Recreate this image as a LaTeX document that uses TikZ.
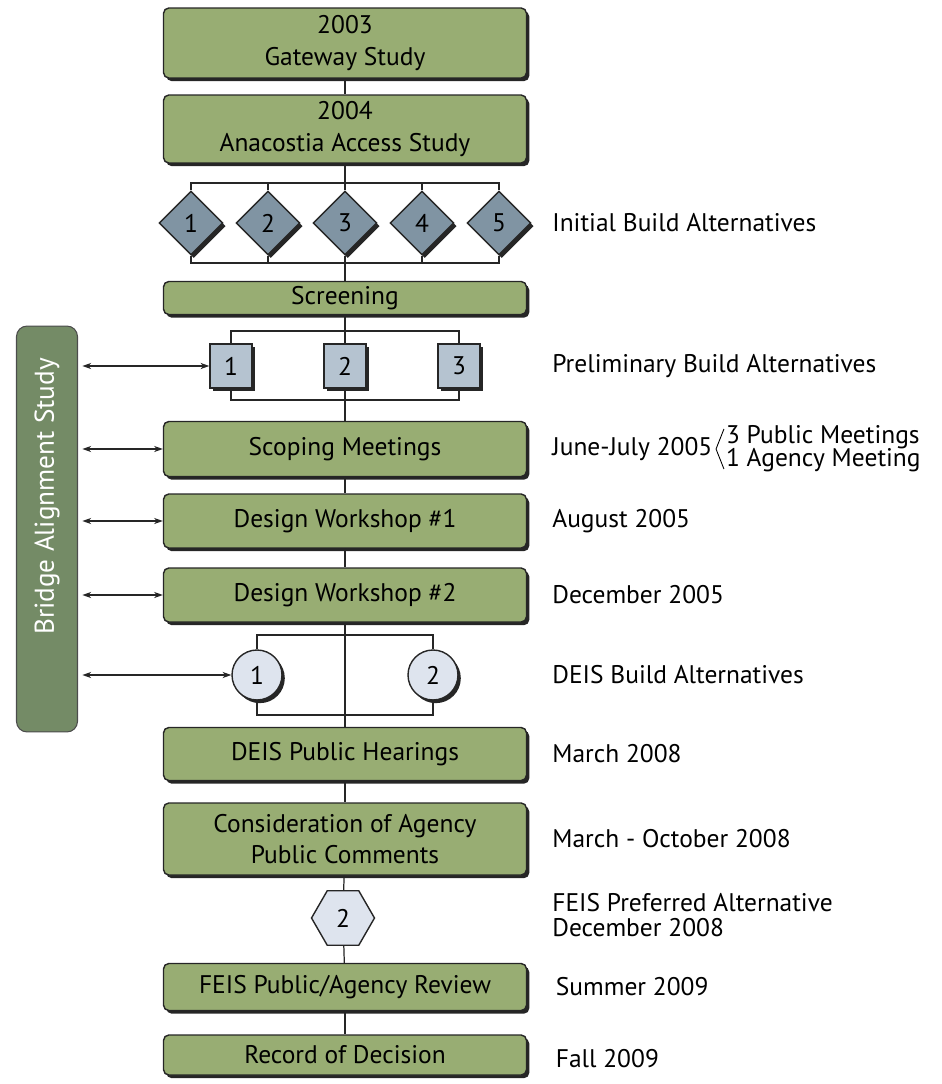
\documentclass[tikz,border=0pt]{standalone}
\usepackage{fontspec}
\setmainfont{PT Sans}
\usepackage{tikz}
\usetikzlibrary{shapes.geometric, arrows.meta, positioning, shadows}

\definecolor{stagegreen}{RGB}{152,173,115}
\definecolor{bridgegreen}{RGB}{116,139,102}
\definecolor{altslate}{RGB}{128,148,163}
\definecolor{altgrey}{RGB}{181,195,208}
\definecolor{altpale}{RGB}{222,228,238}

\begin{document}
\begin{tikzpicture}[x=0.02cm, y=-0.02cm, font=\fontsize{14.5}{18}\selectfont,
    darkshadow/.style={drop shadow={shadow xshift=1.6pt, shadow yshift=-1.8pt, opacity=0.85, fill=black}},
    stage/.style={rectangle, rounded corners=3pt, draw=black!85, line width=0.8pt, fill=stagegreen, minimum width=7.26cm, align=center, inner sep=1pt, darkshadow},
    initalt/.style={diamond, draw=black!85, line width=0.8pt, fill=altslate, minimum size=1.28cm, inner sep=0pt, darkshadow},
    prelimalt/.style={rectangle, draw=black!85, line width=0.8pt, fill=altgrey, minimum width=0.84cm, minimum height=0.88cm, inner sep=0pt, darkshadow},
    deisalt/.style={circle, draw=black!85, line width=0.8pt, fill=altpale, minimum size=1cm, inner sep=0pt, darkshadow},
    prefalt/.style={regular polygon, regular polygon sides=6, draw=black!85, line width=0.8pt, fill=altpale, minimum size=1.26cm, inner sep=0pt},
    note/.style={anchor=west, align=left, inner sep=0pt},
    link/.style={line width=0.7pt, draw=black!85},
    twoway/.style={link, {Stealth[length=5pt,width=3.5pt]}-{Stealth[length=5pt,width=3.5pt]}, shorten <=2.5pt}]
    \useasboundingbox (0,0) rectangle (942,1084);%page size
    \node (gate) [stage, minimum height=1.4cm] at (345,43) {2003\\Gateway Study};%first study
    \node (anac) [stage, minimum height=1.36cm] at (345,129) {2004\\Anacostia Access Study};%second study
    \foreach \i/\x in {1/191,2/268,3/345,4/422,5/499}
        \node (d\i) [initalt] at (\x,223) {\i};%initial alternatives
    \coordinate (altTop) at (345,183);
    \coordinate (altBot) at (345,263);
    \node (screen) [stage, minimum height=0.66cm] at (345,298) {Screening};%screening bar
    \foreach \i/\x in {1/231,2/345,3/459}
        \node (sq\i) [prelimalt] at (\x,366) {\i};%preliminary alternatives
    \coordinate (preTop) at (345,331);
    \coordinate (preBot) at (345,400);
    \node (scope) [stage, minimum height=1.1cm] at (345,449) {Scoping Meetings};
    \node (dw1) [stage, minimum height=1.08cm] at (345,521) {Design Workshop \#1};
    \node (dw2) [stage, minimum height=1.08cm] at (345,595) {Design Workshop \#2};
    \node (c1) [deisalt] at (257,675) {1};%deis alternatives
    \node (c2) [deisalt] at (433,675) {2};
    \coordinate (deisTop) at (345,635);
    \coordinate (deisBot) at (345,715);
    \node (hear) [stage, minimum height=1.06cm] at (345,754) {DEIS Public Hearings};
    \node (cons) [stage, minimum height=1.44cm] at (345,839) {Consideration of Agency\\Public Comments};
    \node (hex) [prefalt] at (343,918) {2};%preferred alternative
    \node (feis) [stage, minimum height=0.94cm] at (345,987) {FEIS Public/Agency Review};
    \node (rod) [stage, minimum height=0.8cm] at (345,1055) {Record of Decision};
    \node (bar) [rotate=90, rectangle, rounded corners=6pt, draw=black!70, line width=0.6pt, fill=bridgegreen, text=white, font=\fontsize{15.5}{18}\selectfont, minimum width=8.12cm, minimum height=1.22cm] at (47,529) {\hspace*{1.3cm}Bridge Alignment Study};%side study
    % main line
    \draw[link] (gate) -- (anac);
    \draw[link] (anac) -- (altTop);
    \draw[link] (d1.north) |- (altTop) -| (d5.north);
    \draw[link] (d1.south) |- (altBot) -| (d5.south);
    \foreach \i in {2,3,4} {
        \draw[link] (d\i.north) -- (d\i.north |- altTop);
        \draw[link] (d\i.south) -- (d\i.south |- altBot);
    }
    \draw[link] (altBot) -- (screen);
    \draw[link] (screen) -- (sq2);
    \draw[link] (sq1.north) |- (preTop) -| (sq3.north);
    \draw[link] (sq1.south) |- (preBot) -| (sq3.south);
    \draw[link] (sq2) -- (scope);
    \draw[link] (scope) -- (dw1);
    \draw[link] (dw1) -- (dw2);
    \draw[link] (dw2) -- (hear);
    \draw[link] (c1.north) |- (deisTop) -| (c2.north);
    \draw[link] (c1.south) |- (deisBot) -| (c2.south);
    \draw[link] (hear) -- (cons);
    \draw[link] (cons) -- (hex);
    \draw[link] (hex) -- (feis);
    \draw[link] (feis) -- (rod);
    % links to the bridge study
    \draw[twoway] (bar.south |- sq1) -- (sq1);
    \draw[twoway] (bar.south |- scope) -- (scope);
    \draw[twoway] (bar.south |- dw1) -- (dw1);
    \draw[twoway] (bar.south |- dw2) -- (dw2);
    \draw[twoway] (bar.south |- c1) -- (c1);
    % notes on the right
    \coordinate (lblx) at (552,0);
    \node (initLbl) [note] at (lblx |- d5) {Initial Build Alternatives};
    \node (prelimLbl) [note] at (lblx |- sq3) {Preliminary Build Alternatives};
    \node (juneLbl) [note] at (lblx |- scope) {June-July 2005};
    \node (meetLbl) [note, right=0.26cm of juneLbl] {3 Public Meetings\\[-5pt]1 Agency Meeting};
    \draw[line width=0.5pt] ([xshift=-1pt,yshift=-2pt]meetLbl.north west) -- ([xshift=-5.5pt]meetLbl.west) -- ([xshift=-1pt,yshift=2pt]meetLbl.south west);%angle bracket
    \node (augLbl) [note] at (lblx |- dw1) {August 2005};
    \node (decLbl) [note] at (lblx |- dw2) {December 2005};
    \node (deisLbl) [note] at (lblx |- c2) {DEIS Build Alternatives};
    \node (marLbl) [note] at (lblx |- hear) {March 2008};
    \node (marOctLbl) [note] at (lblx |- cons) {March - October 2008};
    \node (prefLbl) [note] at (552,915) {FEIS Preferred Alternative\\[-4pt]December 2008};
    \node (sumLbl) [note] at ([xshift=2pt]lblx |- feis) {Summer 2009};
    \node (fallLbl) [note] at ([xshift=2pt,yshift=-2pt]lblx |- rod) {Fall 2009};
\end{tikzpicture}
\end{document}
